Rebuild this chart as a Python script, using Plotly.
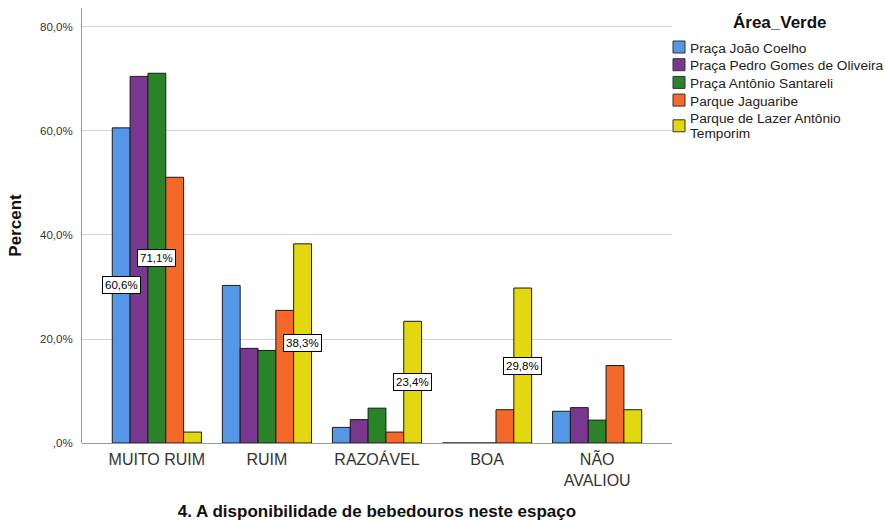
import plotly.graph_objects as go

categories = ["MUITO RUIM", "RUIM", "RAZOÁVEL", "BOA", "NÃO<br>AVALIOU"]
series_names = ["Praça João Coelho", "Praça Pedro Gomes de Oliveira", "Praça Antônio Santareli",
                "Parque Jaguaribe", "Parque de Lazer Antônio<br>Temporim"]
joao_coelho = [60.6, 30.3, 3.0, 0.0, 6.1]
pedro_gomes = [70.5, 18.2, 4.5, 0.0, 6.8]
santareli = [71.1, 17.8, 6.7, 0.0, 4.4]
jaguaribe = [51.1, 25.5, 2.1, 6.4, 14.9]
lazer_temporim = [2.1, 38.3, 23.4, 29.8, 6.4]
series_values = [joao_coelho, pedro_gomes, santareli, jaguaribe, lazer_temporim]
colors = ["#5596e6", "#7a378f", "#2a8229", "#f4692a", "#e3d70f"]
# (category index, series index) of bars that carry a value label
labelled_bars = [(0, 0), (0, 2), (1, 4), (2, 4), (3, 4)]
y_ticks = [0, 20, 40, 60, 80]
y_tick_text = [",0%", "20,0%", "40,0%", "60,0%", "80,0%"]
legend_title = "Área_Verde"

FONT = "Arial, Liberation Sans, sans-serif"
bargap = 0.19
n = len(series_names)

# figure geometry (page body margin removed below)
W, H = 885, 521
ML, MR, MT, MB = 82, 213, 8, 78
PW, PH = W - ML - MR, H - MT - MB


def paper_x(sx):
    return (sx - ML) / PW


def paper_y(sy):
    return (H - MB - sy) / PH


fig = go.Figure()
for name, vals, col in zip(series_names, series_values, colors):
    fig.add_trace(go.Bar(
        x=list(range(len(categories))), y=vals, name=name,
        marker=dict(color=col, line=dict(color="#1a1a1a", width=1)),
        hoverinfo="skip", showlegend=False,
    ))

bw = (1 - bargap) / n
for ci, si in labelled_bars:
    v = series_values[si][ci]
    xpos = ci - (1 - bargap) / 2 + (si + 0.5) * bw
    fig.add_annotation(
        x=xpos, y=v / 2, xref="x", yref="y",
        text=(f"{v:.1f}%").replace(".", ","), showarrow=False,
        font=dict(family=FONT, size=11.5, color="#000"),
        bgcolor="white", bordercolor="#000", borderwidth=1, borderpad=2,
    )

# legend (drawn manually to match the SPSS layout)
fig.add_annotation(
    x=paper_x(780), y=paper_y(23), xref="paper", yref="paper",
    text=f"<b>{legend_title}</b>", showarrow=False, xanchor="center", yanchor="middle",
    font=dict(family=FONT, size=17, color="#111"),
)
row_y = 47
for i, (name, col) in enumerate(zip(series_names, colors)):
    lines = name.split("<br>")
    if len(lines) == 1:
        sq_c = row_y
        line_ys = [row_y + 1]
        row_y += 17.7
    else:
        sq_c = row_y + 8
        line_ys = [row_y + 1 + k * 15 for k in range(len(lines))]
    fig.add_shape(
        type="rect", xref="paper", yref="paper",
        x0=paper_x(673), x1=paper_x(685), y0=paper_y(sq_c + 6), y1=paper_y(sq_c - 6),
        fillcolor=col, line=dict(color="#333", width=1),
    )
    for ln, ly in zip(lines, line_ys):
        fig.add_annotation(
            x=paper_x(688), y=paper_y(ly), xref="paper", yref="paper",
            text=ln, showarrow=False, xanchor="left", yanchor="middle",
            font=dict(family=FONT, size=13.7, color="#222"),
        )

fig.update_layout(
    width=W, height=H,
    barmode="group", bargap=bargap, bargroupgap=0,
    plot_bgcolor="white", paper_bgcolor="white",
    margin=dict(l=ML, r=MR, t=MT, b=MB, autoexpand=False),
    font=dict(family=FONT, color="#222"),
    showlegend=False,
    xaxis=dict(
        tickmode="array", tickvals=list(range(len(categories))), ticktext=categories,
        range=[-0.68, len(categories) - 1 + 0.68],
        showline=False, showgrid=False, zeroline=False, ticks="",
        tickfont=dict(size=16, color="#333"), ticklabelstandoff=5,
        title=dict(text="<b>4. A disponibilidade de bebedouros neste espaço</b>",
                   font=dict(size=17, color="#111"), standoff=17),
    ),
    yaxis=dict(
        range=[0, 83.65], tickmode="array", tickvals=y_ticks, ticktext=y_tick_text,
        showgrid=True, gridcolor="#d0d0d0", gridwidth=1,
        showline=True, linecolor="#999", linewidth=1,
        zeroline=True, zerolinecolor="#999", zerolinewidth=1,
        ticks="", tickfont=dict(size=11.5, color="#333"), ticklabelstandoff=6,
        title=dict(text="<b>Percent</b>", font=dict(size=17, color="#111"), standoff=14),
    ),
)

fig.write_html(
    "out.html",
    config={"displayModeBar": False},
    post_script="document.body.style.margin='0';document.body.style.overflow='hidden';",
)
